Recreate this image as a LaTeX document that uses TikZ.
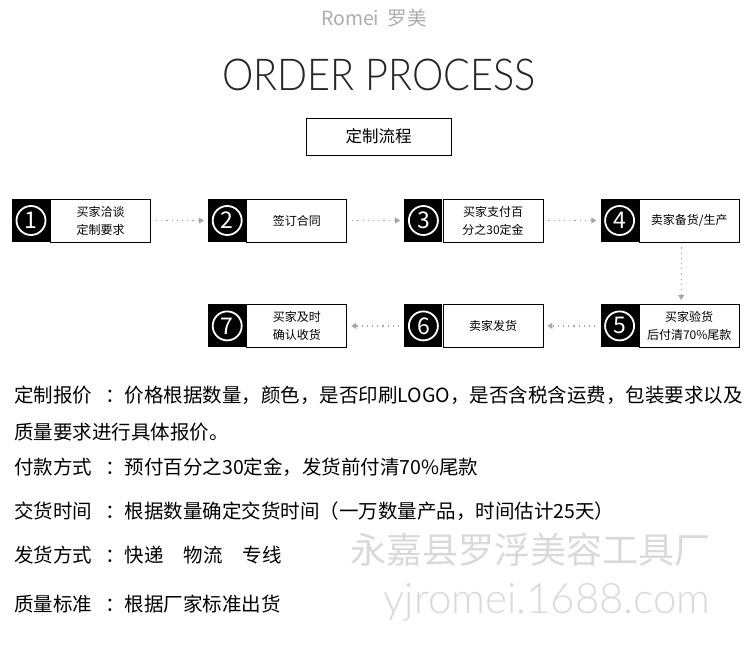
\documentclass[tikz,border=0pt]{standalone}
\usepackage{fontspec}
\setmainfont{Noto Sans CJK SC}
\newfontfamily\thinfont{Lato Light}
\usetikzlibrary{arrows.meta, positioning}

\newcommand{\colonsep}{\hspace{13pt}：}

\begin{document}
\begin{tikzpicture}[
    x=1pt, y=-1pt,
    node distance=57pt,
    numbox/.style={fill=black, minimum width=38pt, minimum height=43pt, inner sep=0pt},
    txtbox/.style={draw, line width=0.8pt, minimum width=100pt, minimum height=43pt, inner sep=0pt, align=center, font=\fontsize{12}{18}\selectfont},
    digit/.style={circle, draw=white, line width=1.8pt, minimum size=29pt, inner sep=0pt, text=white, font=\fontsize{23}{23}\selectfont},
    flow/.style={draw=gray!70, line width=1.2pt, dash pattern=on 1.2pt off 4pt, -{Triangle[length=5pt, width=6pt]}, shorten <=5pt, shorten >=4pt},
    line/.style={anchor=west, inner sep=0pt, font=\fontsize{19.5}{22}\selectfont}
]

\useasboundingbox (0,0) rectangle (750,658);

\node[text=gray!65, font=\fontsize{19.5}{20}\selectfont] (brand) at (374,18) {Romei\ \ 罗美};
\node[text=black!85, font=\thinfont\fontsize{44}{44}\selectfont] (title) at (379,75) {\scalebox{0.9}[1]{ORDER PROCESS}};
\node[draw, line width=0.9pt, minimum width=145pt, minimum height=37pt, font=\fontsize{16.5}{17}\selectfont] (head) at (378.5,136.5) {定制流程};

% steps, top row
\node[numbox] (n1) at (31,220.5) {};
\node[txtbox, right=0pt of n1] (t1) {买家洽谈\\定制要求};
\node[numbox, right=of t1] (n2) {};
\node[txtbox, right=0pt of n2] (t2) {签订合同};
\node[numbox, right=of t2] (n3) {};
\node[txtbox, right=0pt of n3] (t3) {买家支付百\\分之30定金};
\node[numbox, right=of t3] (n4) {};
\node[txtbox, right=0pt of n4] (t4) {卖家备货/生产};

% steps, bottom row
\node[numbox, below=62pt of n4] (n5) {};
\node[txtbox, right=0pt of n5] (t5) {买家验货\\后付清70\%尾款};
\node[numbox, below=62pt of n3] (n6) {};
\node[txtbox, right=0pt of n6] (t6) {卖家发货};
\node[numbox, below=62pt of n2] (n7) {};
\node[txtbox, right=0pt of n7] (t7) {买家及时\\确认收货};

\foreach \i in {1,...,7}
    \node[digit] (d\i) at (n\i) {\i};

\draw[flow] (t1) -- (n2);
\draw[flow] (t2) -- (n3);
\draw[flow] (t3) -- (n4);
\draw[flow] ([xshift=-8pt]t4.south) -- ([xshift=-8pt]t5.north);
\draw[flow] (n5) -- (t6);
\draw[flow] (n6) -- (t7);

% terms
\node[line] (q1) at (14,395) {定制报价\colonsep 价格根据数量，颜色，是否印刷LOGO，是否含税含运费，包装要求以及};
\node[line] (q2) at (14,432) {质量要求进行具体报价。};
\node[line] (q3) at (14,467) {付款方式\colonsep 预付百分之30定金，发货前付清70\%尾款};
\node[line] (q4) at (14,511) {交货时间\colonsep 根据数量确定交货时间（一万数量产品，时间估计25天）};
\node[line] (q5) at (14,555) {发货方式\colonsep 快递\hspace{20pt}物流\hspace{20pt}专线};
\node[line] (q6) at (14,604) {质量标准\colonsep 根据厂家标准出货};

\node[text=gray!30, font=\fontsize{36}{36}\selectfont] (wm1) at (530,550) {永嘉县罗浮美容工具厂};
\node[text=gray!30, font=\thinfont\fontsize{42}{42}\selectfont] (wm2) at (547,602) {yjromei.1688.com};

\end{tikzpicture}
\end{document}
